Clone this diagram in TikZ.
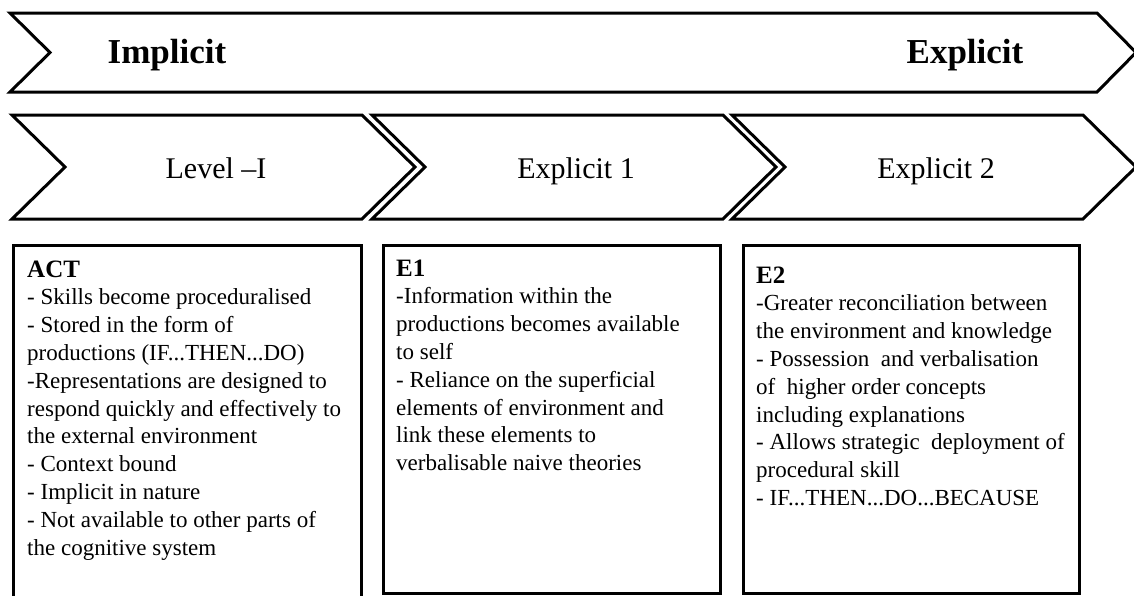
\documentclass[tikz,border=0pt]{standalone}
\usepackage{fontspec}
\setmainfont{Liberation Serif}
\usetikzlibrary{positioning}

\newcommand\cardhead[1]{{\fontsize{25}{27.8}\selectfont\bfseries #1}}
\newcommand\cardtext[1]{\parbox[t]{320pt}{\raggedright #1}}

\begin{document}
\begin{tikzpicture}[x=1pt,y=-1pt,
  chev/.style={line width=3pt,line join=miter},
  card/.style={draw,line width=3pt,inner sep=0pt,anchor=north west},
  note/.style={anchor=base west,inner sep=0pt,font=\fontsize{23}{27.8}\selectfont},
  big/.style={anchor=base,inner sep=0pt,font=\fontsize{35}{40}\selectfont\bfseries},
  stage/.style={anchor=base,inner sep=0pt,font=\fontsize{30}{34}\selectfont}]
\useasboundingbox (0,0) rectangle (1134,595);

% long arrow on top
\draw[chev] (10,13) -- (1097,13) -- (1136,52.5) -- (1097,92) -- (10,92) -- (50,52.5) -- cycle;
\node [big] (impl) at (167,63) {Implicit};
\node [big] (expl) at (965,63) {Explicit};

% the three stages
\draw[chev] (12,115) -- (362,115) -- (415,167) -- (362,219) -- (12,219) -- (65,167) -- cycle;
\draw[chev] (372,115) -- (723,115) -- (776,167) -- (723,219) -- (372,219) -- (425,167) -- cycle;
\draw[chev] (732,115) -- (1083,115) -- (1136,167) -- (1083,219) -- (732,219) -- (785,167) -- cycle;
\node [stage] (lvl) at (216,178) {Level –I};
\node [stage] (eone) at (576,178) {Explicit 1};
\node [stage] (etwo) at (936,178) {Explicit 2};

% boxes
\node [card,minimum width=348,minimum height=354] (actbox) at (12,244) {};
\node [card,minimum width=337,minimum height=348] (eonebox) at (382,244) {};
\node [card,minimum width=336,minimum height=348] (etwobox) at (742,244) {};

\node [note] (acttext) at ([shift={(15,33)}]actbox.north west) {\cardtext{\cardhead{ACT}\\
- Skills become proceduralised\\
- Stored in the form of\\
productions (IF...THEN...DO)\\
-Representations are designed to\\
respond quickly and effectively to\\
the external environment\\
- Context bound\\
- Implicit in nature\\
- Not available to other parts of\\
the cognitive system}};

\node [note] (eonetext) at ([shift={(14,32)}]eonebox.north west) {\cardtext{\cardhead{E1}\\
-Information within the\\
productions becomes available\\
to self\\
- Reliance on the superficial\\
elements of environment and\\
link these elements to\\
verbalisable naive theories}};

\node [note] (etwotext) at ([shift={(14,39)}]etwobox.north west) {\cardtext{\cardhead{E2}\\
-Greater reconciliation between\\
the environment and knowledge\\
- Possession\ \ and verbalisation\\
of\ \ higher order concepts\\
including explanations\\
- Allows strategic\ \ deployment of\\
procedural skill\\
- IF...THEN...DO...BECAUSE}};
\end{tikzpicture}
\end{document}
